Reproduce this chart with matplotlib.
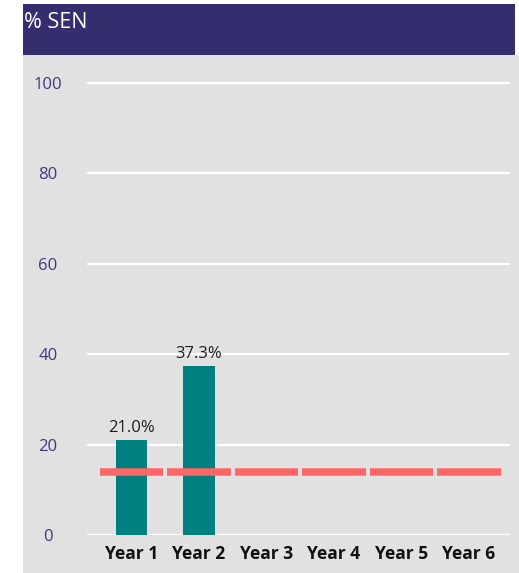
import matplotlib
matplotlib.use("Agg")
import matplotlib.pyplot as plt
from matplotlib.patches import Rectangle

plt.rcParams['font.family'] = ['Open Sans', 'DejaVu Sans']

categories = ["Year 1", "Year 2", "Year 3", "Year 4", "Year 5", "Year 6"]
sen_values = [21.0, 37.3, None, None, None, None]
benchmark = [14.0, 14.0, 14.0, 14.0, 14.0, 14.0]
y_ticks = [0, 20, 40, 60, 80, 100]
title = "% SEN"

W, H = 519, 573
fig = plt.figure(figsize=(W / 100, H / 100), dpi=100)
fig.patch.set_facecolor("white")

def fx(px):
    return px / W

def fy(py):
    return 1 - py / H

# gray panel and header band
fig.patches.append(Rectangle((fx(23), 0), fx(519) - fx(23), fy(55), transform=fig.transFigure,
                             facecolor="#e1e1e1", edgecolor="none", zorder=-5))
fig.patches.append(Rectangle((fx(23), fy(55)), fx(515) - fx(23), fy(4) - fy(55), transform=fig.transFigure,
                             facecolor="#342d6e", edgecolor="none", zorder=-5))
fig.text(fx(24), fy(28), title, color="white", fontsize=15.5, ha="left", va="baseline")

ymax = 101
px_per_unit = (535 - 83) / 100
top_px = 535 - ymax * px_per_unit
left_px, right_px = 87, 510
ax = fig.add_axes([fx(left_px), fy(535), fx(right_px) - fx(left_px), fy(top_px) - fy(535)])
ax.set_zorder(2)
ax.set_facecolor("none")

xs = list(range(len(categories)))
step = 67.5
x0 = (left_px - 131.5) / step
x1 = (right_px - 131.5) / step
ax.set_xlim(x0, x1)
ax.set_ylim(0, ymax)

for t in y_ticks:
    ax.axhline(t, color="white", linewidth=1.6, zorder=1)

bx = [x for x, v in zip(xs, sen_values) if v is not None]
bv = [v for v in sen_values if v is not None]
bars = ax.bar(bx, bv, width=0.46, color="#008080", zorder=2)
ax.bar_label(bars, labels=[f"{v:.1f}%" for v in bv], padding=3, fontsize=12, color="#1e1e1e")

for x, b in zip(xs, benchmark):
    ax.hlines(b, x - 0.47, x + 0.47, color="#ff6666", linewidth=5.4, zorder=3, capstyle="butt")

for s in ax.spines.values():
    s.set_visible(False)

ax.set_xticks(xs)
ax.set_xticklabels(categories, fontsize=12.5, fontweight="bold", color="#111111")
ax.set_yticks(y_ticks)
ax.set_yticklabels([str(t) for t in y_ticks], fontsize=12, color="#3d3880")
ax.tick_params(axis="both", length=0)
ax.tick_params(axis="x", pad=7)
ax.tick_params(axis="y", pad=28)
for lab in ax.get_yticklabels():
    lab.set_horizontalalignment("center")

fig.savefig("out.png", dpi=100)
